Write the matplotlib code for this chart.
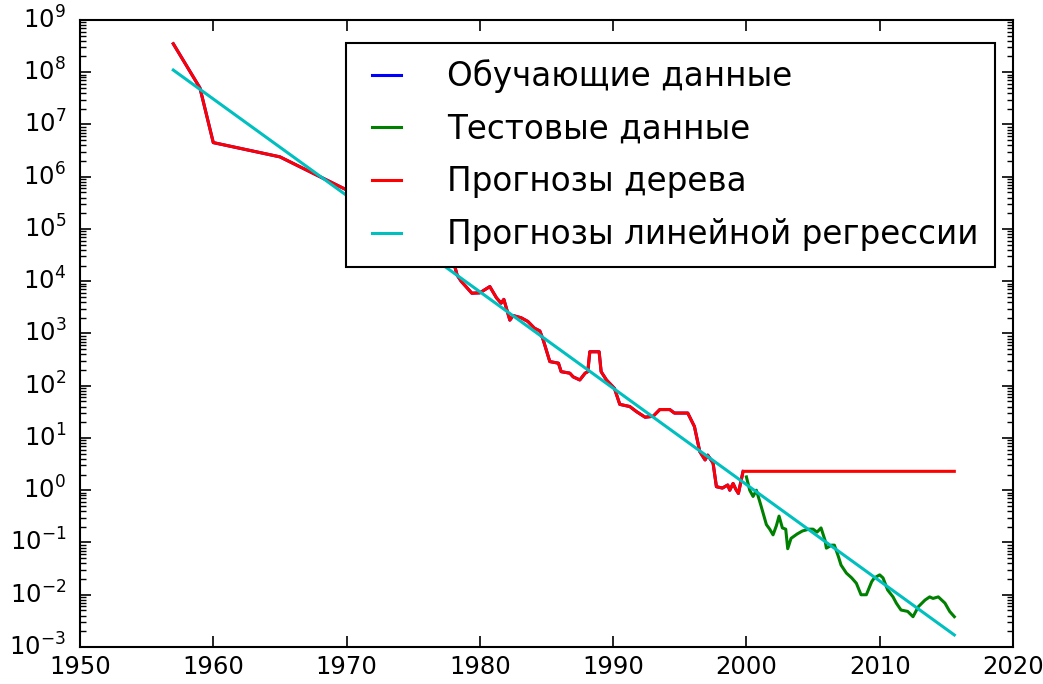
import numpy as np
import matplotlib
matplotlib.use("Agg")
import matplotlib.pyplot as plt
from matplotlib.ticker import LogLocator, ScalarFormatter

plt.style.use('classic')

# RAM price per megabyte, split into training (before 2000) and test part
train_years = [1957.0, 1959.0, 1960.0, 1965.0, 1970.0, 1973.0, 1974.0, 1975.0,
               1975.3, 1975.8, 1976.1, 1976.6, 1977.1, 1977.7, 1978.1, 1978.3,
               1978.6, 1979.4, 1980.0, 1980.75, 1981.25, 1981.6, 1981.8, 1982.25,
               1982.5, 1983.1, 1983.6, 1984.1, 1984.5, 1984.75, 1985.25, 1985.9,
               1986.1, 1986.75, 1987.0, 1987.5, 1987.9, 1988.1, 1988.25, 1988.95,
               1989.1, 1989.5, 1990.1, 1990.5, 1991.25, 1991.75, 1992.4, 1993.0,
               1993.5, 1994.25, 1994.6, 1995.6, 1996.1, 1996.5, 1996.9, 1997.1,
               1997.5, 1997.75, 1998.2, 1998.6, 1998.75, 1999.0, 1999.2, 1999.4,
               1999.75]
train_prices = [3.5e8, 5.0e7, 4.5e6, 2.4e6, 5.6e5, 3.5e5, 2.8e5, 2.0e5,
                7.1e4, 4.5e4, 2.0e4, 3.2e4, 3.5e4, 2.8e4, 2.0e4, 1.3e4,
                1.0e4, 5.9e3, 6.0e3, 7.9e3, 4.8e3, 3.8e3, 4.5e3, 1.8e3,
                2.2e3, 2.0e3, 1.7e3, 1.26e3, 1.12e3, 760, 290, 270,
                186, 174, 148, 129, 174, 186, 447, 447,
                186, 129, 89, 44, 40, 32, 25, 26,
                35, 35, 30, 30, 16.6, 5.5, 3.8, 4.7,
                3.3, 1.17, 1.1, 1.26, 1.0, 1.35, 1.05, 0.87,
                2.3]

test_years = [2000.0, 2000.25, 2000.5, 2000.75, 2001.1, 2001.5, 2001.75, 2002.0,
              2002.25, 2002.45, 2002.7, 2002.95, 2003.1, 2003.35, 2003.8, 2004.2,
              2004.7, 2005.0, 2005.3, 2005.6, 2005.9, 2006.0, 2006.4, 2006.6,
              2006.9, 2007.1, 2007.5, 2007.9, 2008.25, 2008.6, 2009.0, 2009.4,
              2009.6, 2010.0, 2010.25, 2010.6, 2011.0, 2011.25, 2011.6, 2012.1,
              2012.5, 2012.9, 2013.4, 2013.75, 2014.0, 2014.4, 2014.9, 2015.25,
              2015.6]
test_prices = [1.8, 1.0, 0.76, 1.0, 0.50, 0.22, 0.18, 0.14,
               0.21, 0.32, 0.19, 0.18, 0.076, 0.12, 0.145, 0.166,
               0.18, 0.18, 0.158, 0.19, 0.11, 0.078, 0.089, 0.089,
               0.054, 0.037, 0.026, 0.021, 0.0166, 0.010, 0.010, 0.0178,
               0.021, 0.024, 0.021, 0.0123, 0.0091, 0.0069, 0.0051, 0.0048,
               0.0038, 0.0059, 0.0079, 0.0091, 0.0085, 0.0091, 0.0069, 0.0048,
               0.0038]

# the tree repeats the training curve and stays at the last known price
all_years = train_years + test_years
tree_pred = train_prices + [train_prices[-1]] * len(test_years)

# linear regression on log price is a straight line
lr_years = [1957.0, 2015.6]
lr_prices = [1.1e8, 1.7e-3]

fig = plt.figure(figsize=(10.43, 6.84), dpi=100, facecolor='white')
ax = fig.add_axes([0.0767, 0.0541, 0.8945, 0.9167])

ax.semilogy(train_years, train_prices, color='b', lw=2.2, label="Обучающие данные")
ax.semilogy(test_years, test_prices, color='g', lw=2.2, label="Тестовые данные")
ax.semilogy(all_years, tree_pred, color='r', lw=2.2, label="Прогнозы дерева")
ax.semilogy(lr_years, lr_prices, color='c', lw=2.2, label="Прогнозы линейной регрессии")

ax.set_xlim(1950, 2020)
ax.set_ylim(1e-3, 1e9)
ax.xaxis.set_major_formatter(ScalarFormatter(useOffset=False))
ax.set_yticks([10.0 ** k for k in range(-3, 10)])
ax.yaxis.set_minor_locator(LogLocator(base=10, subs=np.arange(2, 10), numticks=200))
ax.tick_params(axis='x', labelsize=17.5, pad=6)
ax.tick_params(axis='y', labelsize=17.5, pad=10)
ax.tick_params(which='major', length=8, width=1.2)
ax.tick_params(which='minor', length=4, width=1.0)
for sp in ax.spines.values():
    sp.set_linewidth(1.5)

leg = ax.legend(loc='upper right', bbox_to_anchor=(0.9807, 0.9633),
                borderaxespad=0, fontsize=23.5, handlelength=1.5,
                handletextpad=1.1, labelspacing=0.6, borderpad=0.5)
leg.get_frame().set_linewidth(1.5)

fig.savefig("out.png", dpi=100, facecolor='white')
